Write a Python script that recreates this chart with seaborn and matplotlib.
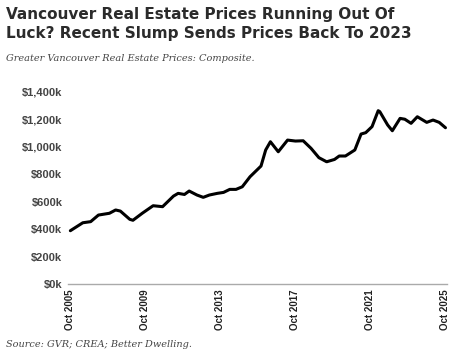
# Greater Vancouver composite benchmark price, Oct 2005 - Oct 2025
# values (thousands of dollars)

import pandas as pd
import matplotlib.pyplot as plt
import seaborn as sns

# --- DATA ---
months = ["2005-10", "2006-06", "2006-11", "2007-04", "2007-11", "2008-03",
          "2008-06", "2008-12", "2009-02", "2009-08", "2010-03", "2010-09",
          "2011-04", "2011-07", "2011-11", "2012-02", "2012-07", "2012-11",
          "2013-03", "2013-08", "2013-12", "2014-04", "2014-08", "2014-12",
          "2015-05", "2015-12", "2016-03", "2016-06", "2016-11", "2017-05",
          "2017-10", "2018-03", "2018-08", "2019-01", "2019-06", "2019-11",
          "2020-02", "2020-06", "2020-12", "2021-04", "2021-07", "2021-11",
          "2022-03", "2022-04", "2022-09", "2022-12", "2023-05", "2023-08",
          "2023-12", "2024-04", "2024-10", "2025-02", "2025-06", "2025-10"]
price_k = [388, 446, 454, 502, 515, 539,
           531, 471, 464, 515, 570, 563,
           640, 660, 652, 677, 648, 631,
           648, 660, 667, 689, 689, 708,
           781, 859, 976, 1036, 963, 1048,
           1041, 1043, 988, 920, 890, 907,
           932, 932, 976, 1092, 1102, 1146,
           1262, 1255, 1158, 1116, 1206, 1200,
           1170, 1218, 1177, 1194, 1177, 1138]

tick_dates = ["2005-10", "2009-10", "2013-10", "2017-10", "2021-10", "2025-10"]
tick_labels = ["Oct 2005", "Oct 2009", "Oct 2013", "Oct 2017", "Oct 2021", "Oct 2025"]
y_ticks = [0, 200, 400, 600, 800, 1000, 1200, 1400]

df = pd.DataFrame({"date": pd.to_datetime(months), "price": price_k})

# --- PLOT ---
sns.set_style("white")
fig = plt.figure(figsize=(4.59, 3.57), dpi=100)
ax = fig.add_axes([0.148, 0.2045, 0.826, 0.5385])

sns.lineplot(data=df, x="date", y="price", ax=ax, color="black", linewidth=2.2)

ax.set_xlim(pd.Timestamp("2005-08-15"), pd.Timestamp("2025-11-01"))
ax.set_ylim(0, 1400)
ax.set_xticks(pd.to_datetime(tick_dates))
ax.set_xticklabels(tick_labels, rotation=90, fontsize=7, fontweight="bold",
                   family="Liberation Sans", color="#222222")
ax.set_yticks(y_ticks)
ax.set_yticklabels(["${:,}k".format(v) for v in y_ticks], fontsize=8,
                   fontweight="bold", family="Liberation Sans", color="#444444")
ax.tick_params(axis="both", length=0, pad=4)
ax.set_xlabel("")
ax.set_ylabel("")
for s in ["top", "right", "left"]:
    ax.spines[s].set_visible(False)
ax.spines["bottom"].set_color("#aaaaaa")
ax.spines["bottom"].set_linewidth(1)

fig.text(0.013, 0.98, "Vancouver Real Estate Prices Running Out Of\nLuck? Recent Slump Sends Prices Back To 2023",
         ha="left", va="top", fontsize=11, fontweight="bold", family="DejaVu Sans",
         color="#2b2b2b", linespacing=1.35)
fig.text(0.013, 0.835, "Greater Vancouver Real Estate Prices: Composite.",
         ha="left", va="center", fontsize=7, style="italic", family="DejaVu Serif",
         color="#444444")
fig.text(0.013, 0.035, "Source: GVR; CREA; Better Dwelling.",
         ha="left", va="center", fontsize=7, style="italic", family="DejaVu Serif",
         color="#444444")

fig.savefig("out.png", dpi=100)
